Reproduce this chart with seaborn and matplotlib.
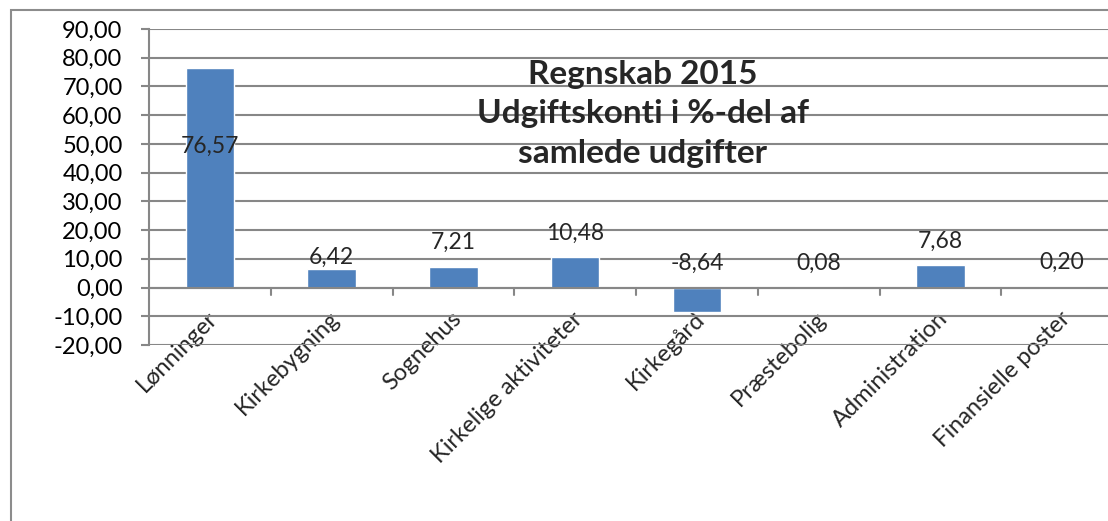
import matplotlib
matplotlib.use("Agg")
import matplotlib.pyplot as plt
import matplotlib.transforms as mtransforms
import seaborn as sns
import pandas as pd
from matplotlib.patches import Rectangle

# Data
kategorier = ["Lønninger", "Kirkebygning", "Sognehus", "Kirkelige aktiviteter",
              "Kirkegård", "Præstebolig", "Administration", "Finansielle poster"]
procent = [76.57, 6.42, 7.21, 10.48, -8.64, 0.08, 7.68, 0.20]
y_ticks = [-20, -10, 0, 10, 20, 30, 40, 50, 60, 70, 80, 90]
titel = "Regnskab 2015\nUdgiftskonti i %-del af\nsamlede udgifter"

df = pd.DataFrame({"konto": kategorier, "pct": procent})

sns.set_theme(style="white")
plt.rcParams["font.family"] = ["Lato", "DejaVu Sans"]

grid_col = "#878787"
bar_col = "#4F81BD"

fig = plt.figure(figsize=(11.08, 5.21), dpi=100)
ax = fig.add_axes([149 / 1108, 1 - 345 / 521, 974 / 1108, 316 / 521])

sns.barplot(data=df, x="konto", y="pct", color=bar_col, width=0.4,
            saturation=1, ax=ax, zorder=3)

ax.set_ylim(-20, 90)
ax.set_xlim(-0.5, len(kategorier) - 0.5)
ax.set_yticks(y_ticks)
ax.set_yticklabels([f"{t:.2f}".replace(".", ",") for t in y_ticks], fontsize=17)
ax.yaxis.grid(True, color=grid_col, linewidth=1.5)
ax.set_axisbelow(True)
ax.set_xlabel("")
ax.set_ylabel("")

for s in ["top", "right", "bottom"]:
    ax.spines[s].set_visible(False)
ax.spines["left"].set_color(grid_col)
ax.spines["left"].set_linewidth(1.5)
ax.tick_params(axis="y", length=6, width=1.5, color=grid_col, pad=13,
               left=True, labelcolor="black")

# kategoriakse ved nul med tickmarks mellem kategorierne
ax.axhline(0, color=grid_col, linewidth=1.5, zorder=4)
for b in range(1, len(kategorier)):
    ax.plot([b - 0.5, b - 0.5], [0, -2.5], color=grid_col, linewidth=1.5, zorder=4)

ax.tick_params(axis="x", length=0, pad=0)
ax.set_xticks(range(len(kategorier)))
ax.set_xticklabels(kategorier, rotation=45, ha="right", va="top",
                   rotation_mode="anchor", fontsize=17)
flyt = mtransforms.ScaledTranslation(-3 / 100, 37 / 100, fig.dpi_scale_trans)
for lbl in ax.get_xticklabels():
    lbl.set_transform(lbl.get_transform() + flyt)

# dataetiketter
for i, v in enumerate(procent):
    txt = f"{v:.2f}".replace(".", ",")
    if v > 50:
        ax.text(i, v * 0.64, txt, ha="center", va="center", fontsize=16.5, zorder=5)
    else:
        afst = 1 if i == 1 else 10
        ax.annotate(txt, (i, max(v, 0)), xytext=(0, afst), textcoords="offset points",
                    ha="center", va="bottom", fontsize=16.5, zorder=5)

fig.text(643 / 1108, 1 - 114 / 521, titel, ha="center", va="center",
         fontsize=24, fontweight="bold", linespacing=1.45)

# diagramramme
fig.patches.append(Rectangle((11 / 1108, -0.1), 1.2, 1.1 - 10 / 521,
                             transform=fig.transFigure, fill=False,
                             edgecolor="#8c8c8c", linewidth=1.5))

fig.savefig("out.png", dpi=100)
